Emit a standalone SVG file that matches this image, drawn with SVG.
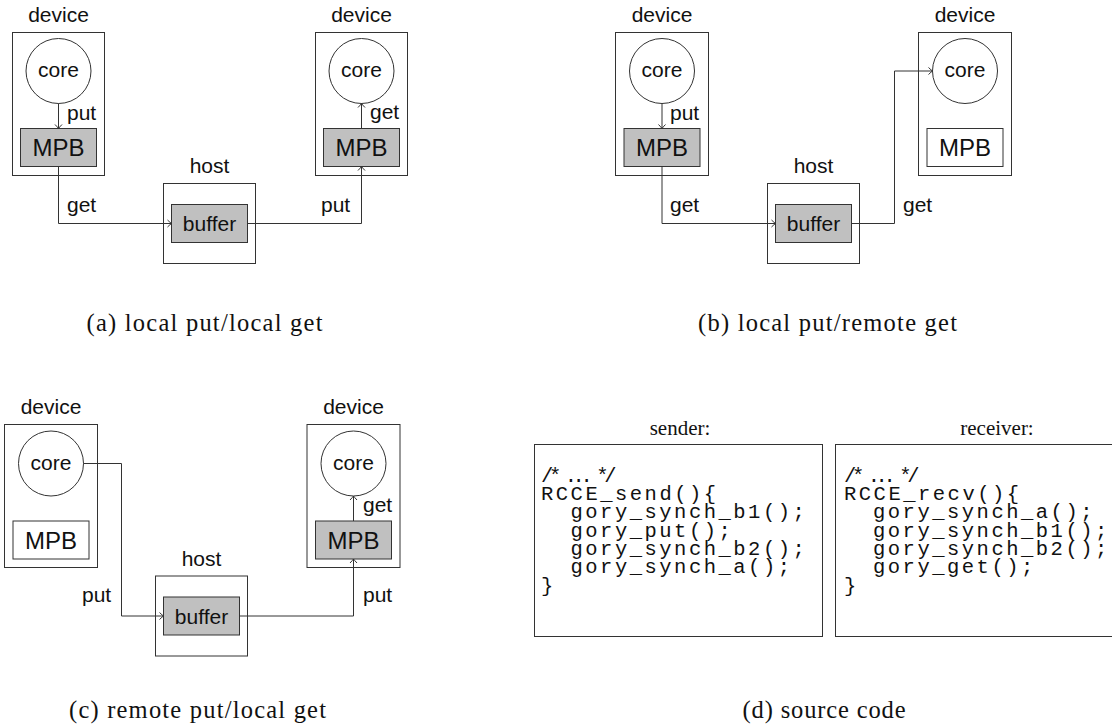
<svg xmlns="http://www.w3.org/2000/svg" width="1112" height="728" viewBox="0 0 1112 728">
<defs>
<style>
.box{fill:#fff;stroke:#333;stroke-width:1}
.gray{fill:#c0c0c0;stroke:#333;stroke-width:1}
.core{fill:#fff;stroke:#333;stroke-width:1}
.lbl{font-family:"Liberation Sans",Arial,sans-serif;font-size:21px;fill:#111}
.mid{text-anchor:middle}
.mpb{font-family:"Liberation Sans",Arial,sans-serif;font-size:24px;fill:#111;text-anchor:middle}
.cap{font-family:"Liberation Serif","Times New Roman",serif;font-size:24.5px;fill:#111}
.ser{font-family:"Liberation Serif","Times New Roman",serif;font-size:21px;fill:#111;text-anchor:middle}
.code{font-family:"Liberation Mono","Courier New",monospace;font-size:20.5px;fill:#111;letter-spacing:2.5px}
.cmt{font-family:"Liberation Mono","Courier New",monospace;font-size:20.5px;fill:#111;letter-spacing:-4.4px}
.wire{fill:none;stroke:#333;stroke-width:1;marker-end:url(#arr)}
</style>
<marker id="arr" viewBox="-5 -5 6 10" markerWidth="6" markerHeight="10" refX="0" refY="0" orient="auto" markerUnits="userSpaceOnUse">
<path d="M-4,-3.5 Q-1.2,-0.8 0,0 Q-1.2,0.8 -4,3.5" fill="none" stroke="#333" stroke-width="1"/>
</marker>
</defs>

<!-- Panel (a) -->
<g id="a-deviceL">
<text class="lbl mid" x="58.5" y="22">device</text>
<rect class="box" x="12.5" y="32.5" width="92" height="143"/>
<circle class="core" cx="58.5" cy="71" r="32.5"/>
<text class="lbl mid" x="58.5" y="77">core</text>
<rect class="gray" x="20.5" y="128.5" width="76" height="38"/>
<text class="mpb" x="58.5" y="156">MPB</text>
</g>
<g id="a-host">
<text class="lbl mid" x="209.5" y="173">host</text>
<rect class="box" x="163.5" y="183.5" width="92" height="80"/>
<rect class="gray" x="171.5" y="204.5" width="76" height="38"/>
<text class="lbl mid" x="209.5" y="231">buffer</text>
</g>
<g id="a-deviceR">
<text class="lbl mid" x="361.5" y="22">device</text>
<rect class="box" x="315.5" y="32.5" width="92" height="143"/>
<circle class="core" cx="361.5" cy="71" r="32.5"/>
<text class="lbl mid" x="361.5" y="77">core</text>
<rect class="gray" x="323.5" y="128.5" width="76" height="38"/>
<text class="mpb" x="361.5" y="156">MPB</text>
</g>

<!-- Panel (b) -->
<g id="b-deviceL">
<text class="lbl mid" x="662" y="22">device</text>
<rect class="box" x="615.5" y="32.5" width="93" height="143"/>
<circle class="core" cx="662" cy="71" r="32.5"/>
<text class="lbl mid" x="662" y="77">core</text>
<rect class="gray" x="624" y="128.5" width="76" height="38"/>
<text class="mpb" x="662" y="156">MPB</text>
</g>
<g id="b-host">
<text class="lbl mid" x="813.5" y="173">host</text>
<rect class="box" x="767.5" y="183.5" width="92" height="80"/>
<rect class="gray" x="775.5" y="204.5" width="76" height="38"/>
<text class="lbl mid" x="813.5" y="231">buffer</text>
</g>
<g id="b-deviceR">
<text class="lbl mid" x="965" y="22">device</text>
<rect class="box" x="918.5" y="32.5" width="93" height="143"/>
<circle class="core" cx="965" cy="71" r="32.5"/>
<text class="lbl mid" x="965" y="77">core</text>
<rect class="box" x="927" y="128.5" width="76" height="38"/>
<text class="mpb" x="965" y="156">MPB</text>
</g>

<!-- Panel (c) -->
<g id="c-deviceL">
<text class="lbl mid" x="51" y="414">device</text>
<rect class="box" x="4.5" y="424.5" width="93" height="143"/>
<circle class="core" cx="51" cy="463.5" r="32.5"/>
<text class="lbl mid" x="51" y="469.5">core</text>
<rect class="box" x="13" y="521" width="76" height="38"/>
<text class="mpb" x="51" y="548.5">MPB</text>
</g>
<g id="c-host">
<text class="lbl mid" x="201.5" y="566">host</text>
<rect class="box" x="155.5" y="576" width="92" height="80"/>
<rect class="gray" x="163.5" y="597" width="76" height="38"/>
<text class="lbl mid" x="201.5" y="624">buffer</text>
</g>
<g id="c-deviceR">
<text class="lbl mid" x="353.5" y="414">device</text>
<rect class="box" x="307" y="424.5" width="93" height="143"/>
<circle class="core" cx="353.5" cy="463.5" r="32.5"/>
<text class="lbl mid" x="353.5" y="469.5">core</text>
<rect class="gray" x="315.5" y="521" width="76" height="38"/>
<text class="mpb" x="353.5" y="548.5">MPB</text>
</g>

<!-- Connectors -->
<g id="connectors">
<path class="wire" d="M58.5 103.5 V128.5"/>
<path class="wire" d="M58.5 166.5 V223.5 H171.5"/>
<path class="wire" d="M247.5 223.5 H361.5 V166.5"/>
<path class="wire" d="M361.5 128.5 V103.5"/>

<path class="wire" d="M662 103.5 V128.5"/>
<path class="wire" d="M662 166.5 V223.5 H775.5"/>
<path class="wire" d="M851.5 223.5 H894.5 V71 H932.5"/>

<path class="wire" d="M83.5 463.5 H121.5 V616 H163.5"/>
<path class="wire" d="M239.5 616 H353.5 V559"/>
<path class="wire" d="M353.5 521 V496"/>
</g>

<!-- Connector labels -->
<g id="edge-labels">
<text class="lbl" x="67" y="120">put</text>
<text class="lbl" x="67" y="212">get</text>
<text class="lbl" x="321" y="212">put</text>
<text class="lbl" x="370" y="119">get</text>

<text class="lbl" x="670" y="120">put</text>
<text class="lbl" x="670" y="212">get</text>
<text class="lbl" x="903" y="212">get</text>

<text class="lbl" x="82" y="602">put</text>
<text class="lbl" x="363" y="602">put</text>
<text class="lbl" x="363" y="512">get</text>
</g>

<!-- Panel (d) -->
<g id="d-sender">
<text class="ser" x="680" y="435">sender:</text>
<rect class="box" x="534.5" y="444.5" width="288" height="192"/>
<text class="cmt" x="541" y="482">/* ... */</text>
<text class="code" x="541" y="500">RCCE_send(){</text>
<text class="code" x="570.5" y="518.3">gory_synch_b1();</text>
<text class="code" x="570.5" y="536.6">gory_put();</text>
<text class="code" x="570.5" y="554.9">gory_synch_b2();</text>
<text class="code" x="570.5" y="573.2">gory_synch_a();</text>
<text class="code" x="541" y="591.5">}</text>
</g>
<g id="d-receiver">
<text class="ser" x="997" y="435">receiver:</text>
<rect class="box" x="835.5" y="444.5" width="300" height="192"/>
<text class="cmt" x="844" y="482">/* ... */</text>
<text class="code" x="844" y="500">RCCE_recv(){</text>
<text class="code" x="873" y="518.3">gory_synch_a();</text>
<text class="code" x="873" y="536.6">gory_synch_b1();</text>
<text class="code" x="873" y="554.9">gory_synch_b2();</text>
<text class="code" x="873" y="573.2">gory_get();</text>
<text class="code" x="844" y="591.5">}</text>
</g>

<!-- Captions -->
<g id="captions">
<text class="cap" x="86.5" y="331" textLength="236" lengthAdjust="spacing">(a) local put/local get</text>
<text class="cap" x="698" y="331" textLength="259" lengthAdjust="spacing">(b) local put/remote get</text>
<text class="cap" x="69" y="718" textLength="257" lengthAdjust="spacing">(c) remote put/local get</text>
<text class="cap" x="742.5" y="718" textLength="163" lengthAdjust="spacing">(d) source code</text>
</g>
</svg>
